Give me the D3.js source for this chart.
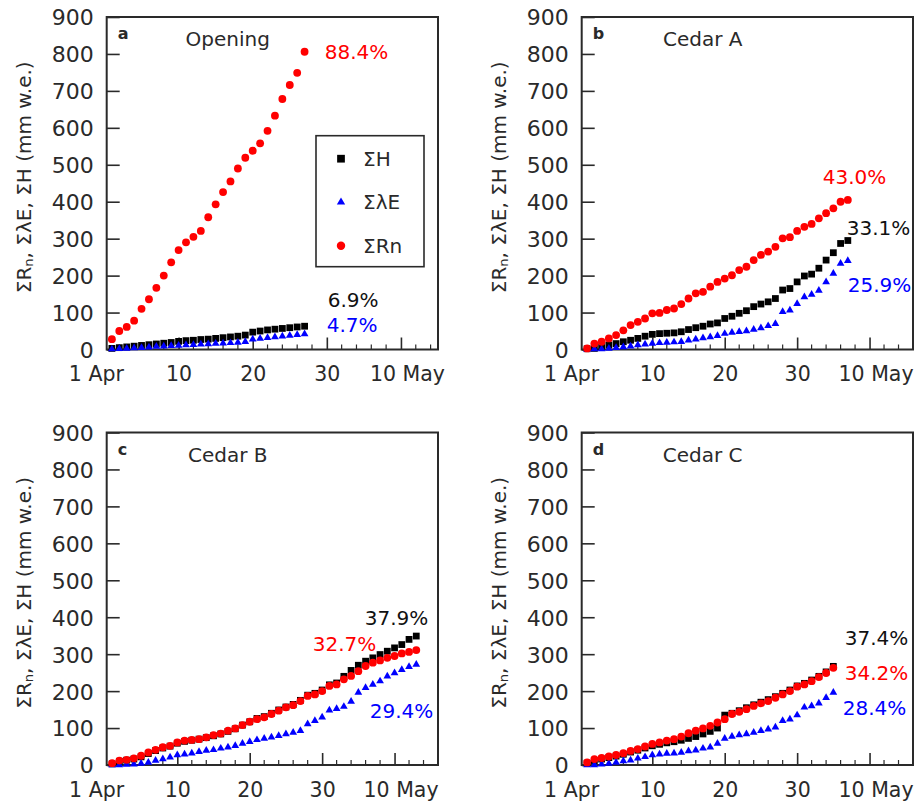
<!DOCTYPE html>
<html><head><meta charset="utf-8">
<script src="https://cdn.jsdelivr.net/npm/d3@7/dist/d3.min.js"></script>
<style>body{margin:0;background:#fff} svg{display:block;font-family:"DejaVu Sans",Verdana,sans-serif}</style>
</head><body><svg id="chart" width="920" height="801"></svg>
<script>
// ---------- data ----------
const dayTicks = [1, 10, 20, 30, 40];
const dayTickLabels = ["1 Apr", "10", "20", "30", "10 May"];
const minorDays = [2,4,6,8,12,14,16,18,22,24,26,28,32,34,36,38,42,44];
const yTicks = [0,100,200,300,400,500,600,700,800,900];
const panelLetters = ["a", "b", "c", "d"];
const panelTitles = ["Opening", "Cedar A", "Cedar B", "Cedar C"];
const seriesNames = ["ΣH", "ΣλE", "ΣRn"];
const pctH  = ["6.9%", "33.1%", "37.9%", "37.4%"];
const pctLE = ["4.7%", "25.9%", "29.4%", "28.4%"];
const pctRn = ["88.4%", "43.0%", "32.7%", "34.2%"];

// cumulative values (mm w.e.), one per day from 1 Apr
const openingH  = [3,5,7,9,11,13,15,17,19,22,24,25,27,28,30,32,34,36,39,47,50,53,55,57,59,61,63];
const openingLE = [1,2,3,4,5,6,8,9,10,11,12,13,14,15,16,17,18,19,21,28,30,32,34,36,38,40,42];
const openingRn = [28,50,61,78,110,136,167,200,236,269,290,305,321,358,393,426,455,490,519,538,558,592,633,678,716,749,806];

const cedarAH  = [2,3,7,12,16,21,25,30,36,41,43,44,45,48,54,59,63,69,72,84,90,98,105,116,123,129,138,161,165,183,199,204,220,242,262,287,295];
const cedarALE = [0,1,1,3,5,7,9,12,14,16,18,19,20,21,25,28,31,34,37,43,46,48,50,54,58,64,70,102,106,124,142,149,160,183,206,233,240];
const cedarARn = [3,16,21,30,39,52,66,75,84,98,99,107,111,123,138,152,156,170,183,192,201,215,224,242,256,265,278,301,304,321,332,340,355,369,382,400,405];

const cedarBH  = [3,10,13,16,22,31,39,46,51,59,64,67,70,74,79,84,91,98,108,117,126,131,140,149,157,164,175,189,194,203,217,222,240,256,270,281,290,299,308,317,326,340,349];
const cedarBLE = [0,0,1,2,4,7,12,16,21,27,29,32,36,39,41,45,48,52,58,63,68,72,75,79,84,88,93,111,120,129,148,152,158,172,196,209,218,227,240,249,258,266,272];
const cedarBRn = [5,12,14,18,25,34,41,48,52,61,66,68,70,75,81,85,93,99,108,117,124,129,138,147,156,162,173,187,191,200,214,218,232,241,254,268,277,283,290,295,302,306,311];

const cedarCH  = [5,12,16,20,24,29,35,40,46,52,56,60,63,67,72,77,84,91,100,135,140,147,155,163,170,177,185,194,203,214,221,230,240,252,267];
const cedarCLE = [0,0,2,4,7,11,13,18,22,27,29,31,32,34,38,40,45,48,58,72,77,81,84,88,93,97,102,120,124,135,156,160,167,182,196];
const cedarCRn = [7,16,19,23,27,32,38,43,50,57,61,66,70,77,86,93,99,106,115,124,138,144,151,160,167,173,182,191,200,212,218,227,238,249,263];

// ---------- layout ----------
const panels = [
  {x0:106.7, y0:17,    xMin:0.3,  xMax:45, H:openingH, LE:openingLE, Rn:openingRn,
   pos:{Rn:[218,35], H:[221,283], LE:[220,308]}, legend:true},
  {x0:581.7, y0:17,    xMin:0.25, xMax:46, H:cedarAH, LE:cedarALE, Rn:cedarARn,
   pos:{Rn:[241,160], H:[265,211], LE:[266,268]}},
  {x0:106.7, y0:432.5, xMin:0.25, xMax:46, H:cedarBH, LE:cedarBLE, Rn:cedarBRn,
   pos:{Rn:[206,211], H:[258,185], LE:[263,278]}},
  {x0:581.7, y0:432.5, xMin:0.25, xMax:46, H:cedarCH, LE:cedarCLE, Rn:cedarCRn,
   pos:{Rn:[263,240], H:[263,205], LE:[261,275]}}
];
const W = 331.3, Hh = 332.5;
const RED = "#ff0000", BLUE = "#0000ff", BLACK = "#000000", INK = "#2a2a2a";

const svg = d3.select("#chart");
const sqSym  = d3.symbol().type(d3.symbolSquare).size(46);
const triSym = d3.symbol().type(d3.symbolTriangle).size(26);
const cirSym = d3.symbol().type(d3.symbolCircle).size(48);

panels.forEach((p, i) => {
  const g = svg.append("g").attr("transform", `translate(${p.x0},${p.y0})`);
  const x = d3.scaleLinear().domain([p.xMin, p.xMax]).range([0, W]);
  const y = d3.scaleLinear().domain([0, 900]).range([Hh, 0]);

  // y axis
  const ya = g.append("g").call(d3.axisLeft(y).tickValues(yTicks).tickSize(-13).tickPadding(13));
  ya.select(".domain").remove();
  ya.selectAll("line").attr("stroke", INK).attr("stroke-width", 1.6);
  ya.selectAll("text").attr("font-size", 22).attr("fill", INK)
    .attr("font-family", "DejaVu Sans, sans-serif").attr("dy", "0.36em");

  // x axis
  const xa = g.append("g").attr("transform", `translate(0,${Hh})`)
    .call(d3.axisBottom(x).tickValues(dayTicks).tickSize(-12).tickPadding(17)
      .tickFormat((d, k) => dayTickLabels[k]));
  xa.select(".domain").remove();
  xa.selectAll("line").attr("stroke", INK).attr("stroke-width", 1.6);
  xa.selectAll("text").attr("font-size", 20.5).attr("fill", INK)
    .attr("font-family", "DejaVu Sans, sans-serif")
    .attr("dx", (d, k) => k === 0 ? -16 : (k === 4 ? 6 : 0));
  xa.selectAll(".tick").filter(d => d === 1).select("line").remove();
  g.append("g").selectAll("line").data(minorDays).join("line")
    .attr("x1", d => x(d)).attr("x2", d => x(d))
    .attr("y1", Hh).attr("y2", Hh - 5)
    .attr("stroke", INK).attr("stroke-width", 1.2);

  // frame
  g.append("rect").attr("width", W).attr("height", Hh)
    .attr("fill", "none").attr("stroke", INK).attr("stroke-width", 2);

  // y title
  const yt = g.append("text")
    .attr("transform", `translate(-83,${Hh/2 - 6}) rotate(-90)`)
    .attr("text-anchor", "middle").attr("dominant-baseline", "central")
    .attr("font-size", 20).attr("fill", INK)
    .attr("font-family", "DejaVu Sans, sans-serif");
  yt.append("tspan").text("ΣR");
  yt.append("tspan").text("n").attr("font-size", 13).attr("dy", 4);
  yt.append("tspan").text(", ΣλE, ΣH (mm w.e.)").attr("dy", -4);

  // panel letter + title
  g.append("text").attr("x", 11).attr("y", 22).text(panelLetters[i])
    .attr("font-size", 16).attr("font-weight", "bold").attr("fill", INK);
  g.append("text").attr("x", 121).attr("y", 29).attr("text-anchor", "middle")
    .text(panelTitles[i]).attr("font-size", 20).attr("fill", INK);

  // series: H, LE, Rn (Rn drawn last)
  const series = [
    {vals: p.H,  sym: sqSym,  col: BLACK},
    {vals: p.LE, sym: triSym, col: BLUE},
    {vals: p.Rn, sym: cirSym, col: RED}
  ];
  series.forEach(s => {
    g.append("g").selectAll("path").data(s.vals).join("path")
      .attr("d", s.sym)
      .attr("transform", (v, k) => `translate(${x(k + 1)},${y(v)})`)
      .attr("fill", s.col);
  });

  // percentage labels
  [["Rn", pctRn[i], RED], ["H", pctH[i], "#111"], ["LE", pctLE[i], BLUE]].forEach(([key, txt, col]) => {
    g.append("text").attr("x", p.pos[key][0]).attr("y", p.pos[key][1] + 7)
      .text(txt).attr("font-size", 20).attr("fill", col);
  });

  // legend
  if (p.legend) {
    const lg = g.append("g").attr("transform", "translate(209.3,118.7)");
    lg.append("rect").attr("width", 108).attr("height", 131)
      .attr("fill", "#fff").attr("stroke", INK).attr("stroke-width", 1.6);
    const syms = [d3.symbol().type(d3.symbolSquare).size(60),
                  d3.symbol().type(d3.symbolTriangle).size(30),
                  d3.symbol().type(d3.symbolCircle).size(56)];
    const cols = [BLACK, BLUE, RED];
    seriesNames.forEach((nm, k) => {
      const yy = 23 + k * 43.5;
      lg.append("path").attr("d", syms[k]).attr("transform", `translate(25,${yy})`).attr("fill", cols[k]);
      lg.append("text").attr("x", 47).attr("y", yy + 7).text(nm)
        .attr("font-size", 20).attr("fill", INK);
    });
  }
});
</script></body></html>
